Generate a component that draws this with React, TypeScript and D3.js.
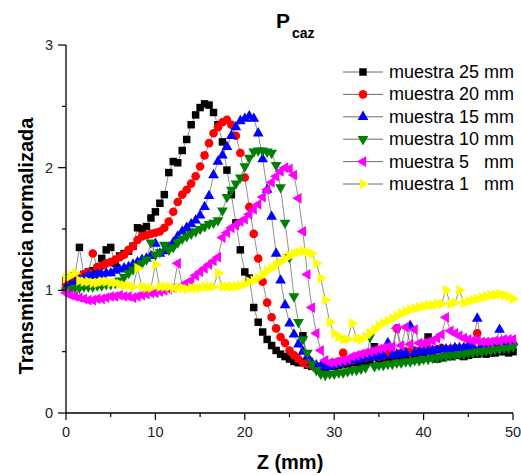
import React from "react";
import * as d3 from "d3";

const Z_MM = [
  0, 0.5, 1, 1.5, 2, 2.5, 3, 3.5, 4, 4.5,
  5, 5.5, 6, 6.5, 7, 7.5, 8, 8.5, 9, 9.5,
  10, 10.5, 11, 11.5, 12, 12.5, 13, 13.5, 14, 14.5,
  15, 15.5, 16, 16.5, 17, 17.5, 18, 18.5, 19, 19.5,
  20, 20.5, 21, 21.5, 22, 22.5, 23, 23.5, 24, 24.5,
  25, 25.5, 26, 26.5, 27, 27.5, 28, 28.5, 29, 29.5,
  30, 30.5, 31, 31.5, 32, 32.5, 33, 33.5, 34, 34.5,
  35, 35.5, 36, 36.5, 37, 37.5, 38, 38.5, 39, 39.5,
  40, 40.5, 41, 41.5, 42, 42.5, 43, 43.5, 44, 44.5,
  45, 45.5, 46, 46.5, 47, 47.5, 48, 48.5, 49, 49.5,
  50,
];

const M25 = [
  1.08, 1.10, 1.12, 1.35, 1.13, 1.15, 1.16, 1.18, 1.26, 1.33,
  1.35, 1.22, 1.28, 1.30, 1.32, 1.36, 1.51, 1.50, 1.52, 1.59,
  1.64, 1.71, 1.78, 1.96, 2.05, 2.04, 2.14, 2.23, 2.35, 2.43,
  2.49, 2.52, 2.51, 2.45, 2.35, 2.21, 1.98, 1.78, 1.55, 1.33,
  1.15, 1.10, 0.86, 0.74, 0.66, 0.60, 0.55, 0.51, 0.48, 0.46,
  0.44, 0.42, 0.41, 0.63, 0.39, 0.38, 0.37, 0.37, 0.37, 0.38,
  0.38, 0.39, 0.40, 0.40, 0.41, 0.41, 0.40, 0.42, 0.42, 0.54,
  0.42, 0.43, 0.42, 0.43, 0.42, 0.43, 0.44, 0.43, 0.44, 0.44,
  0.45, 0.62, 0.45, 0.44, 0.45, 0.46, 0.46, 0.47, 0.47, 0.46,
  0.47, 0.48, 0.48, 0.49, 0.48, 0.49, 0.49, 0.50, 0.50, 0.49,
  0.50,
];

const M20 = [
  1.05, 1.07, 1.09, 1.11, 1.13, 1.15, 1.30, 1.19, 1.20, 1.22,
  1.23, 1.25, 1.27, 1.29, 1.33, 1.36, 1.41, 1.44, 1.45, 1.46,
  1.47, 1.48, 1.51, 1.56, 1.64, 1.72, 1.78, 1.82, 1.87, 1.93,
  2.01, 2.10, 2.20, 2.28, 2.33, 2.37, 2.39, 2.35, 2.26, 2.12,
  1.92, 1.68, 1.46, 1.26, 1.07, 0.90, 0.78, 0.69, 0.62, 0.57,
  0.51, 0.47, 0.44, 0.41, 0.40, 0.39, 0.38, 0.38, 0.39, 0.40,
  0.41, 0.42, 0.49, 0.42, 0.43, 0.44, 0.45, 0.45, 0.46, 0.47,
  0.46, 0.47, 0.48, 0.48, 0.69, 0.49, 0.50, 0.50, 0.51, 0.50,
  0.51, 0.52, 0.51, 0.52, 0.53, 0.52, 0.52, 0.53, 0.52, 0.53,
  0.54, 0.53, 0.65, 0.54, 0.55, 0.54, 0.55, 0.56, 0.55, 0.56,
  0.56,
];

const M15 = [
  1.02, 1.04, 1.06, 1.08, 1.10, 1.12, 1.12, 1.13, 1.13, 1.14,
  1.14, 1.16, 1.17, 1.18, 1.19, 1.21, 1.23, 1.25, 1.26, 1.28,
  1.38, 1.30, 1.32, 1.35, 1.39, 1.44, 1.48, 1.51, 1.54, 1.57,
  1.61, 1.68, 1.77, 1.94, 2.05, 2.10, 2.17, 2.26, 2.33, 2.38,
  2.40, 2.42, 2.40, 2.28, 2.07, 1.82, 1.60, 1.30, 1.08, 0.88,
  0.73, 0.64, 0.56, 0.50, 0.46, 0.41, 0.39, 0.38, 0.38, 0.38,
  0.39, 0.40, 0.41, 0.42, 0.43, 0.43, 0.44, 0.45, 0.45, 0.46,
  0.46, 0.47, 0.57, 0.47, 0.48, 0.48, 0.49, 0.71, 0.49, 0.50,
  0.50, 0.50, 0.51, 0.51, 0.52, 0.52, 0.52, 0.53, 0.53, 0.53,
  0.54, 0.54, 0.77, 0.55, 0.55, 0.56, 0.56, 0.68, 0.57, 0.57,
  0.58,
];

const M10 = [
  1.00, 1.01, 1.02, 1.02, 1.03, 1.03, 1.03, 1.04, 1.04, 1.05,
  1.05, 1.06, 1.08, 1.11, 1.14, 1.17, 1.20, 1.22, 1.25, 1.39,
  1.29, 1.31, 1.37, 1.33, 1.35, 1.39, 1.42, 1.44, 1.46, 1.48,
  1.50, 1.52, 1.54, 1.55, 1.57, 1.65, 1.76, 1.82, 1.87, 1.92,
  2.01, 2.08, 2.13, 2.14, 2.14, 2.13, 2.12, 2.02, 1.84, 1.55,
  1.27, 0.95, 0.74, 0.60, 0.49, 0.40, 0.35, 0.32, 0.31, 0.32,
  0.32, 0.33, 0.33, 0.34, 0.35, 0.35, 0.36, 0.37, 0.62, 0.38,
  0.39, 0.39, 0.40, 0.40, 0.41, 0.41, 0.42, 0.42, 0.43, 0.43,
  0.44, 0.44, 0.45, 0.45, 0.46, 0.46, 0.47, 0.47, 0.48, 0.48,
  0.49, 0.49, 0.50, 0.50, 0.51, 0.51, 0.52, 0.52, 0.53, 0.53,
  0.54,
];

const M5 = [
  0.98, 0.96, 0.95, 0.94, 0.93, 0.92, 0.92, 0.93, 0.93, 0.94,
  0.95, 0.95, 0.96, 0.95, 0.95, 0.94, 0.95, 0.96, 0.97, 0.98,
  0.98, 0.99, 1.00, 1.01, 1.02, 1.22, 1.04, 1.06, 1.08, 1.12,
  1.15, 1.18, 1.21, 1.24, 1.27, 1.43, 1.47, 1.51, 1.53, 1.56,
  1.58, 1.62, 1.66, 1.70, 1.76, 1.82, 1.88, 1.93, 1.97, 2.00,
  1.99, 1.94, 1.75, 1.48, 1.13, 0.86, 0.65, 0.51, 0.43, 0.41,
  0.41, 0.42, 0.43, 0.44, 0.46, 0.47, 0.48, 0.49, 0.50, 0.51,
  0.52, 0.53, 0.54, 0.54, 0.69, 0.55, 0.70, 0.56, 0.68, 0.57,
  0.57, 0.58, 0.59, 0.61, 0.64, 0.78, 0.67, 0.65, 0.63, 0.61,
  0.60, 0.59, 0.59, 0.58, 0.58, 0.58, 0.59, 0.59, 0.60, 0.60,
  0.60,
];

const M1 = [
  1.10, 1.12, 1.14, 1.08, 1.07, 1.07, 1.06, 1.06, 1.07, 1.07,
  1.06, 1.06, 1.05, 1.04, 1.04, 1.03, 1.18, 1.03, 1.02, 1.02,
  1.21, 1.03, 1.03, 1.03, 1.02, 1.02, 1.02, 1.01, 1.02, 1.02,
  1.02, 1.03, 1.03, 1.03, 1.14, 1.03, 1.03, 1.03, 1.03, 1.04,
  1.05, 1.07, 1.08, 1.10, 1.13, 1.16, 1.18, 1.21, 1.23, 1.26,
  1.28, 1.30, 1.31, 1.32, 1.31, 1.30, 1.22, 1.10, 0.92, 0.74,
  0.65, 0.62, 0.60, 0.60, 0.73, 0.61, 0.60, 0.62, 0.65, 0.68,
  0.71, 0.73, 0.75, 0.77, 0.79, 0.81, 0.83, 0.84, 0.85, 0.86,
  0.87, 0.88, 0.88, 0.89, 0.89, 1.00, 0.89, 0.90, 1.00, 0.90,
  0.91, 0.92, 0.93, 0.94, 0.95, 0.96, 0.96, 0.97, 0.96, 0.95,
  0.93,
];

const SERIES_NAMES = [
  "muestra 25 mm",
  "muestra 20 mm",
  "muestra 15 mm",
  "muestra 10 mm",
  "muestra 5   mm",
  "muestra 1   mm",
];
const SERIES_VALUES = [M25, M20, M15, M10, M5, M1];
const SERIES_COLORS = ["#000000", "#ff0000", "#0000ff", "#008000", "#ff00ff", "#ffff00"];
const SERIES_SYMBOLS = ["square", "circle", "up", "down", "left", "right"];

const X_TICKS = [0, 10, 20, 30, 40, 50];
const X_MINOR = [5, 15, 25, 35, 45];
const Y_TICKS = [0, 1, 2, 3];
const Y_MINOR = [0.5, 1.5, 2.5];

const FONT = "'Liberation Sans', Arial, Helvetica, sans-serif";

const x = d3.scaleLinear().domain([0, 50]).range([66, 513]);
const y = d3.scaleLinear().domain([0, 3]).range([413, 45]);

const squarePath = d3.symbol(d3.symbolSquare, 56)()!;
const circlePath = d3.symbol(d3.symbolCircle, 58)()!;
const triPath = d3.symbol(d3.symbolTriangle, 50)()!;

function marker(kind: string, cx: number, cy: number, color: string, key: string | number) {
  let d = triPath;
  let rot = 0;
  if (kind === "square") d = squarePath;
  else if (kind === "circle") d = circlePath;
  else if (kind === "down") rot = 180;
  else if (kind === "left") rot = -90;
  else if (kind === "right") rot = 90;
  return (
    <path
      key={key}
      d={d}
      transform={`translate(${cx},${cy}) rotate(${rot})`}
      fill={color}
      stroke="none"
    />
  );
}

export default function App() {
  const line = d3
    .line<number>()
    .x((_, i) => x(Z_MM[i]))
    .y((v) => y(v));

  return (
    <svg
      width={521}
      height={475}
      style={{ position: "absolute", left: 0, top: 0, background: "#fff" }}
      fontFamily={FONT}
    >
      <rect x={0} y={0} width={521} height={475} fill="#fff" />

      {/* Title */}
      <text x={276} y={28} fontSize={21} fontWeight="bold" fill="#000">
        P
      </text>
      <text x={292} y={38} fontSize={14} fontWeight="bold" fill="#000">
        caz
      </text>

      {/* Series */}
      {SERIES_VALUES.map((vals, si) => (
        <g key={si}>
          <path d={line(vals) || ""} fill="none" stroke="#444" strokeWidth={0.6} />
          {vals.map((v, i) => marker(SERIES_SYMBOLS[si], x(Z_MM[i]), y(v), SERIES_COLORS[si], i))}
        </g>
      ))}

      {/* Axes */}
      <line x1={66} x2={66} y1={y(3)} y2={413} stroke="#000" strokeWidth={1.3} />
      <line x1={66} x2={513} y1={413} y2={413} stroke="#000" strokeWidth={1.3} />
      {Y_TICKS.map((t) => (
        <g key={"yt" + t}>
          <line x1={58} x2={66} y1={y(t)} y2={y(t)} stroke="#000" strokeWidth={1.2} />
          <text x={53} y={y(t) + 5} fontSize={14.5} textAnchor="end" fill="#222">
            {t}
          </text>
        </g>
      ))}
      {Y_MINOR.map((t) => (
        <line key={"ym" + t} x1={62} x2={66} y1={y(t)} y2={y(t)} stroke="#000" strokeWidth={1.2} />
      ))}
      {X_TICKS.map((t) => (
        <g key={"xt" + t}>
          <line x1={x(t)} x2={x(t)} y1={413} y2={420} stroke="#000" strokeWidth={1.2} />
          <text x={x(t)} y={437} fontSize={14.5} textAnchor="middle" fill="#222">
            {t}
          </text>
        </g>
      ))}
      {X_MINOR.map((t) => (
        <line key={"xm" + t} x1={x(t)} x2={x(t)} y1={413} y2={417} stroke="#000" strokeWidth={1.2} />
      ))}

      {/* Axis titles */}
      <text x={290} y={469} fontSize={20} fontWeight="bold" textAnchor="middle" fill="#000">
        Z (mm)
      </text>
      <text
        transform={`translate(33,246) rotate(-90)`}
        fontSize={20}
        fontWeight="bold"
        textAnchor="middle"
        fill="#000"
      >
        Transmitancia normalizada
      </text>

      {/* Legend */}
      {SERIES_NAMES.map((name, si) => {
        const ly = 72 + si * 22.4;
        return (
          <g key={"lg" + si}>
            <line x1={343} x2={383} y1={ly} y2={ly} stroke="#444" strokeWidth={0.8} />
            {marker(SERIES_SYMBOLS[si], 363, ly, SERIES_COLORS[si], "m")}
            <text x={389} y={ly + 6} fontSize={18} fill="#000" style={{ whiteSpace: "pre" }}>
              {name}
            </text>
          </g>
        );
      })}
    </svg>
  );
}
